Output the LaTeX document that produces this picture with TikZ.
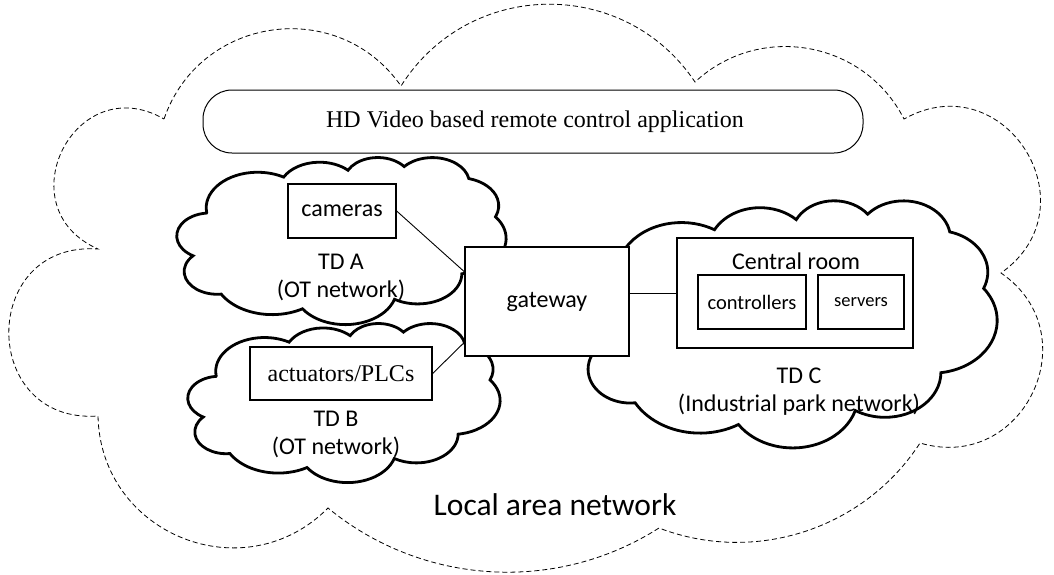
\documentclass[tikz,border=0pt]{standalone}
\usepackage{fontspec}
\setmainfont{Liberation Serif}
\newfontfamily\calibri{Carlito}
\usetikzlibrary{calc}
% Office-style cloud outline, frame 432 x 432
\newcommand\ocdef[5]{%
  \pgfmathsetmacro\octmpS{atan2((#2)*sin(#4),(#3)*cos(#4))}%
  \pgfmathsetmacro\octmpE{atan2((#2)*sin((#4)+(#5)),(#3)*cos((#4)+(#5)))}%
  \pgfmathsetmacro\octmpD{mod(\octmpE-\octmpS+720,360)}%
  \expandafter\let\csname ocS#1\endcsname\octmpS
  \expandafter\let\csname ocD#1\endcsname\octmpD}
\ocdef{a}{67.53}{91.90}{-190.48748}{123.78053}
\ocdef{b}{53.33}{72.67}{-144.10238}{89.94523}
\ocdef{c}{43.65}{59.45}{-145.80792}{99.72302}
\ocdef{d}{48.57}{65.95}{-130.98607}{117.24173}
\ocdef{e}{53.33}{72.73}{-78.70888}{109.02692}
\ocdef{f}{67.75}{92.20}{-46.26725}{130.26900}
\ocdef{g}{57.85}{78.67}{0.62502}{114.03333}
\ocdef{h}{67.52}{92.15}{22.45160}{115.17255}
\ocdef{i}{77.20}{105.43}{66.24263}{75.71102}
\ocdef{j}{43.60}{59.18}{-274.94208}{146.73557}
\ocdef{k}{43.45}{59.45}{-246.82850}{152.51885}
\tikzset{
  officepath/.style={insert path={(39.00,143.70)
    arc[start angle=\ocSa, delta angle=\ocDa, x radius=67.53, y radius=91.90]
    arc[start angle=\ocSb, delta angle=\ocDb, x radius=53.33, y radius=72.67]
    arc[start angle=\ocSc, delta angle=\ocDc, x radius=43.65, y radius=59.45]
    arc[start angle=\ocSd, delta angle=\ocDd, x radius=48.57, y radius=65.95]
    arc[start angle=\ocSe, delta angle=\ocDe, x radius=53.33, y radius=72.73]
    arc[start angle=\ocSf, delta angle=\ocDf, x radius=67.75, y radius=92.20]
    arc[start angle=\ocSg, delta angle=\ocDg, x radius=57.85, y radius=78.67]
    arc[start angle=\ocSh, delta angle=\ocDh, x radius=67.52, y radius=92.15]
    arc[start angle=\ocSi, delta angle=\ocDi, x radius=77.20, y radius=105.43]
    arc[start angle=\ocSj, delta angle=\ocDj, x radius=43.60, y radius=59.18]
    arc[start angle=\ocSk, delta angle=\ocDk, x radius=43.45, y radius=59.45]
    -- cycle}},
  puff/.code={\pgfmathsetmacro\pfl{4/3*tan(#1/2)/(2*sin(#1))/0.3915}%
    \edef\pfx{\noexpand\tikzset{bend left=#1, looseness=\pfl}}\pfx},
  bigcloud/.style={draw, dashed, dash pattern=on 5pt off 3pt, line width=0.8pt},
  tdcloud/.style={draw, fill=white, line width=2.8pt},
  box/.style={draw, fill=white, line width=1.3pt, inner sep=0pt},
  appbox/.style={draw, line width=1pt, rounded corners=29pt, inner sep=0pt},
  conn/.style={line width=0.9pt},
  sanslbl/.style={font=\calibri\fontsize{24}{28}\selectfont, align=center, inner sep=0pt},
}
\begin{document}
\begin{tikzpicture}[x=1pt,y=-1pt]
\useasboundingbox (0,0) rectangle (1054,574);
% local area network (dashed cloud)
\draw[bigcloud] (164,119) to[puff=63] (401,86) to[puff=57] (695,82) to[puff=53]
  (904,119) to[puff=87] (1001,273) to[puff=81] (920,443) to[puff=39]
  (659,528) to[puff=36] (328,508) to[puff=67] (98,416) to[puff=94]
  (98,249) to[puff=93] (164,119);
\node[font=\calibri\fontsize{31.5}{36}\selectfont, inner sep=0pt] (lanlbl) at (555,505) {Local area network};
% application
\node[appbox, minimum width=660, minimum height=63] (app) at (533,121.5) {};
\node[font=\fontsize{24}{28}\selectfont, inner sep=0pt] (applbl) at (535,122) {HD Video based remote control application};
% TD clouds
\begin{scope}[shift={(177,157)}, x=0.76157pt, y=-0.38657pt]
  \draw[tdcloud, officepath];
\end{scope}
\begin{scope}[shift={(188,323)}, x=0.72222pt, y=-0.36806pt]
  \draw[tdcloud, officepath];
\end{scope}
\begin{scope}[shift={(579,200)}, x=0.96759pt, y=-0.57176pt]
  \draw[tdcloud, officepath];
\end{scope}
\node[sanslbl] (tdalbl) at (341,277) {TD A\\(OT network)};
\node[sanslbl] (tdblbl) at (336,434) {TD B\\(OT network)};
\node[sanslbl] (tdclbl) at (799,392) {TD C\\(Industrial park network)};
% boxes
\node[box, minimum width=108, minimum height=54, font=\calibri\fontsize{24}{28}\selectfont] (cam) at (342,211) {cameras};
\node[box, minimum width=182, minimum height=53, font=\fontsize{24}{28}\selectfont] (act) at (341,373.5) {actuators/PLCs};
\node[box, minimum width=164, minimum height=109, font=\calibri\fontsize{24}{28}\selectfont] (gw) at (547,301.5) {gateway};
\node[box, minimum width=236, minimum height=110] (central) at (795,293) {};
\node[sanslbl] (centrallbl) at (796,261) {Central room};
\node[box, minimum width=108, minimum height=54, font=\calibri\fontsize{20.5}{24}\selectfont] (ctrl) at (752,302) {controllers};
\node[box, minimum width=86, minimum height=54, font=\calibri\fontsize{18.5}{22}\selectfont] (srv) at (861,302) {servers};
% connectors
\draw[conn] (cam.east) -- ($(gw.north west)!0.23!(gw.south west)$);
\draw[conn] (act.east) -- ($(gw.south west)!0.13!(gw.north west)$);
\draw[conn] (gw.east |- central.west) -- (central.west);
\end{tikzpicture}
\end{document}
